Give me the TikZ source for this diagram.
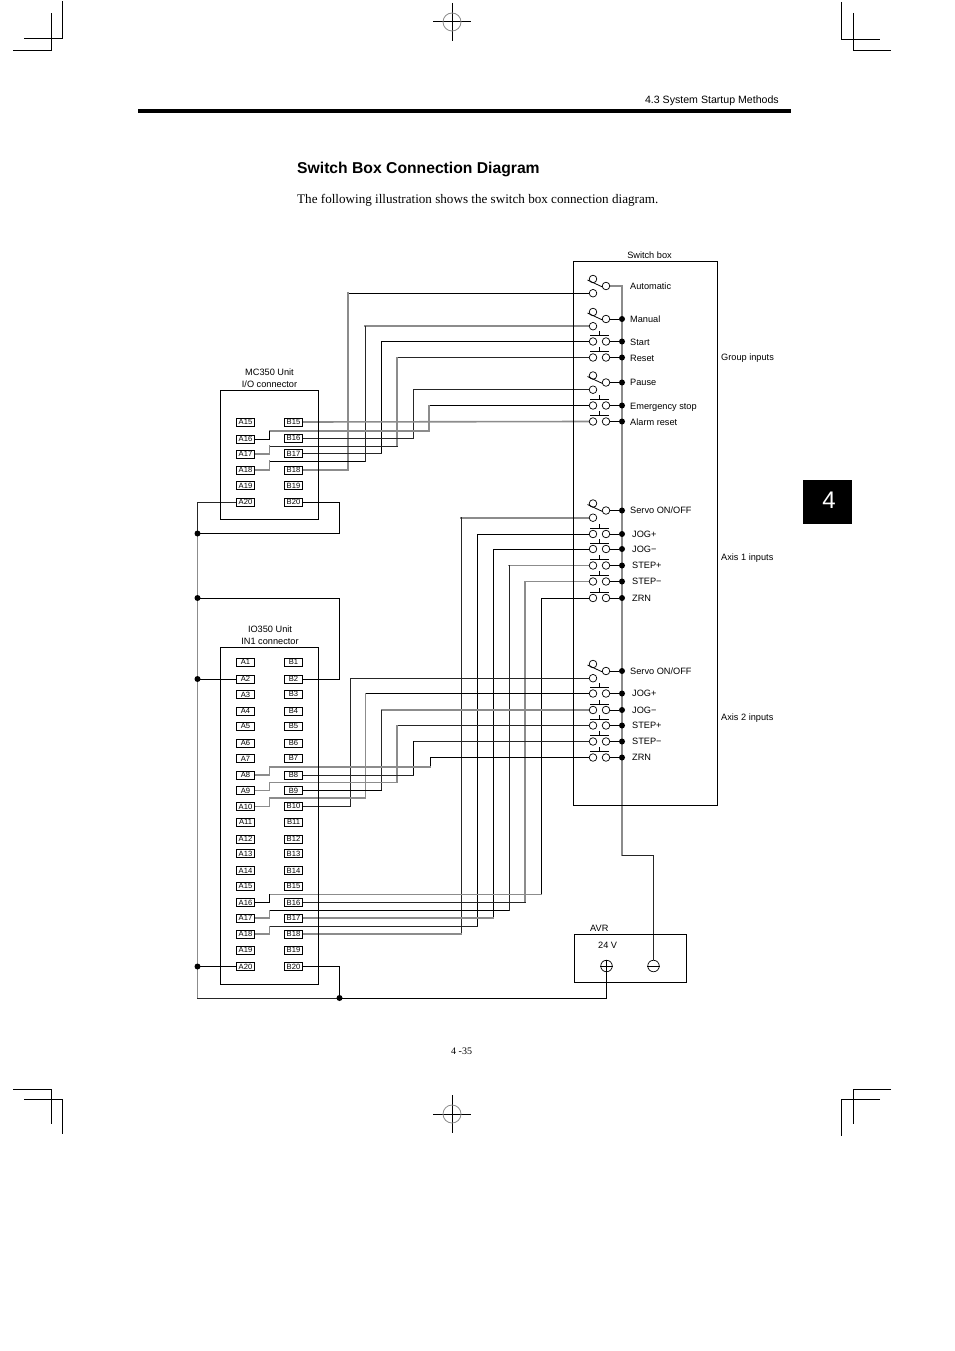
\documentclass[tikz,border=0pt]{standalone}
\usepackage{fontspec}
\setmainfont{Liberation Sans}
\newfontfamily\bodyserif{Liberation Serif}
\pgfdeclarelayer{wires}
\pgfsetlayers{wires,main}
\newcommand\fsz[1]{\fontsize{#1}{#1}\selectfont}
\def\lsh{3.1}
% contact-to-B-terminal wire: contact, x, terminal, then the style of each run
\newcommand\wb[6]{%
  \draw[#4] (#1.west) -- (#2,0 |- #1.west);
  \draw[#5] (#2,0 |- #1.west) -- (#2,0 |- #3.east);
  \draw[#6] (#2,0 |- #3.east) -- (#3.east);}
% contact-to-A-terminal wire: contact, x, ymid, terminal, then styles
\newcommand\wa[8]{%
  \draw[#5] (#1.west) -- (#2,0 |- #1.west);
  \draw[#6] (#2,0 |- #1.west) -- (#2,#3);
  \draw[#7] (#2,#3) -- (269.5,#3);
  \draw[#8] (269.5,#3) -- (269.5,0 |- #4.east) -- (#4.east);}
% push button: name, y, label x, label
\newcommand\pb[4]{%
  \node[contact] (c#1L) at (593,#2) {};
  \node[contact] (c#1R) at (606,#2) {};
  \draw[thinl] (590,#2-6) -- (609,#2-6) (599.5,#2-6) -- (599.5,#2-10.5);
  \node[busdot] (d#1) at (622,#2) {};
  \draw[wk] (c#1R.east) -- (d#1);
  \node[lbl] (l#1) at (#3,#2+\lsh) {#4};}
% selector switch: name, y, label x, label
\newcommand\sel[4]{%
  \node[contact] (c#1U) at (593,#2-7) {};
  \node[contact] (c#1R) at (606,#2) {};
  \node[contact] (c#1L) at (593,#2+7.2) {};
  \draw[thinl] (587.5,#2-6) -- (602.5,#2+1);
  \node[lbl] (l#1) at (#3,#2+3.1) {#4};}
\newcommand\seld[4]{%
  \sel{#1}{#2}{#3}{#4}
  \node[busdot] (d#1) at (622,#2) {};
  \draw[wk] (c#1R.east) -- (d#1);}
\tikzset{
  x=1pt,y=-1pt,
  wk/.style={black,line width=0.85pt,line cap=rect},
  wd/.style={black!85,line width=1pt,line cap=rect},
  wg/.style={black!45,line width=1.6pt,line cap=rect},
  thinl/.style={black,line width=0.8pt},
  frame/.style={draw=black,line width=1pt,fill=none},
  crop/.style={black,line width=1pt},
  contact/.style={circle,draw=black,line width=0.7pt,fill=white,minimum size=7.6pt,inner sep=0pt},
  busdot/.style={circle,fill=black,minimum size=6pt,inner sep=0pt},
  lbl/.style={anchor=base west,inner sep=0pt,font=\fsz{9.2}},
  clbl/.style={anchor=base,inner sep=0pt,font=\fsz{9.2}},
  term/.style={draw=black,line width=0.8pt,fill=white,minimum width=18pt,minimum height=8pt,inner sep=0pt,font=\fsz{7.6}},
  power/.style={circle,draw=black,line width=0.7pt,fill=white,minimum size=11.5pt,inner sep=0pt},
}
\begin{document}
\begin{tikzpicture}
\useasboundingbox (0,0) rectangle (954,1351);
\begin{pgfonlayer}{wires}
\fill[white] (0,0) rectangle (954,1351);
\end{pgfonlayer}
% printer's marks
\draw[crop] (24,39) -- (62,39) -- (62,1);
\draw[crop] (13,51) -- (51,51) -- (51,13);
\draw[crop] (841,2) -- (841,40) -- (880,40);
\draw[crop] (853,13) -- (853,51) -- (891,51);
\draw[crop] (13,1089) -- (51,1089) -- (51,1124);
\draw[crop] (24,1099) -- (62,1099) -- (62,1134);
\draw[crop] (891,1089) -- (853,1089) -- (853,1124);
\draw[crop] (880,1099) -- (841,1099) -- (841,1136);
\draw[crop] (433,22) -- (471,22) (452,3) -- (452,41);
\draw[black!45,line width=0.8pt] (452,22) circle (9);
\draw[crop] (433,1114) -- (471,1114) (452,1095) -- (452,1133);
\draw[black!45,line width=0.8pt] (452,1114) circle (9);
% page furniture
\fill[black] (138,109) rectangle (791,113);
\node[anchor=base east,inner sep=0pt,font=\fsz{10.6}] (hdr) at (779,103.5) {4.3 System Startup Methods};
\node[anchor=base west,inner sep=0pt,font=\fsz{15.7}\bfseries] (ttl) at (297,173.5) {Switch Box Connection Diagram};
\node[anchor=base west,inner sep=0pt,font=\fsz{13.12}\bodyserif] (intro) at (297,203.3) {The following illustration shows the switch box connection diagram.};
\fill[black] (803,480) rectangle (852,524);
\node[white,inner sep=0pt,font=\fsz{24}] (tab) at (829,500) {4};
\node[anchor=base west,inner sep=0pt,font=\fsz{10}\bodyserif] (pg) at (451,1054.5) {4 -35};
% frames
\draw[frame] (573.5,261.5) rectangle (717.5,805);
\draw[frame] (220.5,390.5) rectangle (318,519);
\draw[frame] (220.5,647.5) rectangle (318.5,984);
\draw[frame] (574,934.5) rectangle (686.5,982);
% frame labels
\node[clbl] (lsb) at (649.5,258) {Switch box};
\node[clbl] (lm1) at (269.5,375) {MC350 Unit};
\node[clbl] (lm2) at (269.5,387) {I/O connector};
\node[clbl] (li1) at (270,632) {IO350 Unit};
\node[clbl] (li2) at (270,644) {IN1 connector};
\node[lbl] (lgi) at (721,360) {Group inputs};
\node[lbl] (la1) at (721,560) {Axis 1 inputs};
\node[lbl] (la2) at (721,720) {Axis 2 inputs};
\node[lbl] (lavr) at (590,931) {AVR};
\node[lbl] (lv) at (598,948) {24 V};
% connector terminals
\foreach \n/\y/\z in {15/422/422,16/439/438,17/454/453.5,18/470/470,19/485.5/485.5,20/502/502}{
  \node[term] (mA\n) at (245.5,\y) {A\n};
  \node[term] (mB\n) at (293.5,\z) {B\n};
}
\foreach \n/\y/\z in {1/662/662,2/679/679,3/694.5/694,4/711/711,5/726/726,6/743/743,7/758.5/758,8/775/775,9/790.5/790.5,10/806.5/806,11/822/822,12/839/839,13/853.5/853.5,14/870.5/870.5,15/886/886,16/902.5/902.5,17/918/918,18/934/934,19/950/950,20/966.5/966.5}{
  \node[term] (iA\n) at (245.5,\y) {A\n};
  \node[term] (iB\n) at (293.5,\z) {B\n};
}
% switches
\sel{Auto}{286}{630}{Automatic}
\seld{Man}{319}{630}{Manual}
\def\lsh{3.9}
\pb{Start}{341.5}{630}{Start}
\pb{Reset}{357.5}{630}{Reset}
\seld{Pause}{382.5}{630}{Pause}
\pb{Emg}{405.5}{630}{Emergency stop}
\pb{Alm}{421.5}{630}{Alarm reset}
\def\lsh{3.1}
\seld{SvA}{510.5}{630}{Servo ON/OFF}
\pb{JpA}{534}{632}{JOG+}
\pb{JmA}{549}{632}{JOG−}
\pb{SpA}{565.5}{632}{STEP+}
\pb{SmA}{581.5}{632}{STEP−}
\pb{ZrA}{598}{632}{ZRN}
\seld{SvB}{671}{630}{Servo ON/OFF}
\pb{JpB}{693.5}{632}{JOG+}
\pb{JmB}{710}{632}{JOG−}
\pb{SpB}{725.5}{632}{STEP+}
\pb{SmB}{741.5}{632}{STEP−}
\pb{ZrB}{757.5}{632}{ZRN}
% AVR terminals
\node[power] (pos) at (606.5,966) {};
\node[power] (neg) at (653.5,966) {};
\draw[thinl] (pos.west) -- (pos.east) (pos.north) -- (pos.south);
\draw[thinl] (neg.west) -- (neg.east);
% common return junctions
\node[busdot] (j1) at (197.5,533.5) {};
\node[busdot] (j2) at (197.5,598) {};
\node[busdot] (j3) at (197.5,679) {};
\node[busdot] (j4) at (197.5,966.5) {};
\node[busdot] (j5) at (339.5,998) {};
\begin{pgfonlayer}{wires}
% supply bus
\draw[wg] (cAutoR.east) -- (622,0 |- cAutoR.east) -- (622,855);
\draw[wd] (622,855) -- (653.5,855) -- (neg.north);
% group inputs
\wb{cAutoL}{348}{mB18}{wk}{wg}{wg}
\wa{cManL}{365}{461}{mA18}{wg}{wd}{wk}{wg}
\wb{cStartL}{381}{mB17}{wk}{wk}{wd}
\wa{cResetL}{397}{446}{mA17}{wd}{wg}{wd}{wg}
\wb{cPauseL}{413}{mB16}{wd}{wd}{wd}
\wa{cEmgL}{429}{431}{mA16}{wk}{wg}{wg}{wk}
\draw[wg] (cAlmL.west) -- (mB15.east);
% axis 1 inputs
\wb{cSvAL}{461}{iB18}{wg}{wd}{wg}
\wa{cJpAL}{477}{926.5}{iA18}{wk}{wk}{wd}{wg}
\wb{cJmAL}{493}{iB17}{wk}{wk}{wg}
\wa{cSpAL}{509}{910.5}{iA17}{wg}{wd}{wk}{wg}
\wb{cSmAL}{525}{iB16}{wg}{wg}{wd}
\wa{cZrAL}{541}{894.5}{iA16}{wk}{wk}{wg}{wk}
% axis 2 inputs
\wb{cSvBL}{350}{iB10}{wd}{wd}{wd}
\wa{cJpBL}{365.5}{798}{iA10}{wk}{wg}{wg}{wg}
\wb{cJmBL}{381.5}{iB9}{wg}{wd}{wk}
\wa{cSpBL}{397}{782.5}{iA9}{wd}{wg}{wg}{wg}
\wb{cSmBL}{413}{iB8}{wd}{wk}{wd}
\wa{cZrBL}{430}{767}{iA8}{wk}{wk}{wg}{wg}
% common returns
\draw[wd] (mA20.west) -| (j1.center);
\draw[wg] (j1) -- (j2) -- (j3) -- (j4) -- (197.5,998);
\draw[wd] (197.5,998) -- (j5);
\draw[wk] (j1) -- (339.5,533.5) |- (mB20.east);
\draw[wk] (j2) -- (339.5,598) |- (iB2.east);
\draw[wk] (j3) -- (iA2.west);
\draw[wk] (j4) -- (iA20.west);
\draw[wk] (iB20.east) -| (j5);
\draw[wk] (j5) -| (pos.south);
\end{pgfonlayer}
\end{tikzpicture}
\end{document}
